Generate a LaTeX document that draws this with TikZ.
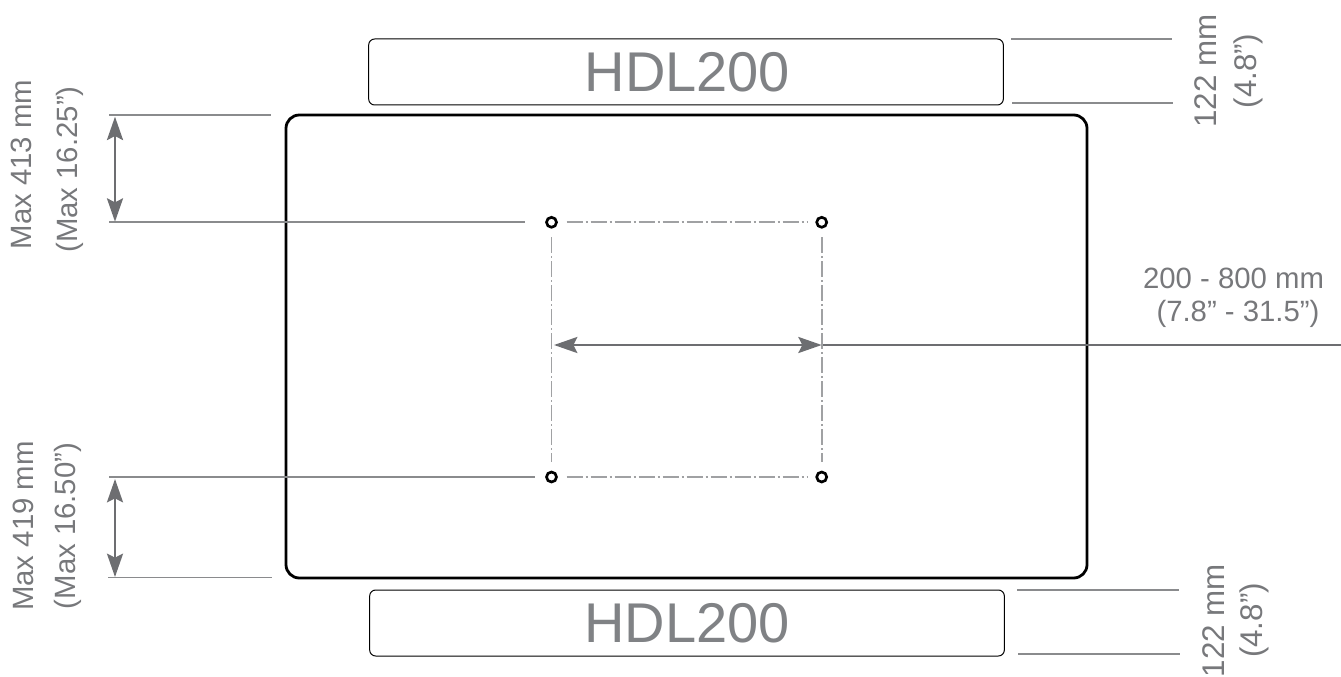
\documentclass[tikz,border=0pt]{standalone}
\usepackage{fontspec}
\setmainfont{Liberation Sans}
\usetikzlibrary{arrows.meta}
\definecolor{dimgray}{HTML}{6D6E71}
\definecolor{labelgray}{HTML}{77787B}
\definecolor{bargray}{HTML}{808285}
\definecolor{linegray}{HTML}{8A8B8D}
\definecolor{dashgray}{HTML}{A0A1A3}
\tikzset{
    px/.style={x=0.75pt,y=-0.75pt},
    outline/.style={draw=black,line width=2.1pt,rounded corners=10pt},
    mountbar/.style={draw=black,line width=0.75pt,rounded corners=4.5pt,text=bargray,font=\fontsize{42}{42}\selectfont,inner sep=0pt,minimum width=476pt,minimum height=49.5pt},
    hole/.style={circle,draw=black,fill=white,line width=2pt,minimum size=7.5pt,inner sep=0pt},
    extline/.style={draw=linegray,line width=0.9pt},
    centerline/.style={draw=dashgray,line width=1.2pt,shorten <=6.5pt,shorten >=6.5pt,dash pattern=on 12pt off 2.25pt on 1.5pt off 2.25pt},
    dimarrow/.style={draw=dimgray,line width=2pt,{Stealth[length=17.5pt,width=12pt,inset=3pt]}-{Stealth[length=17.5pt,width=12pt,inset=3pt]}},
    dimtext/.style={text=labelgray,font=\fontsize{22}{34.5}\selectfont,align=center,inner sep=0pt},
    bartext/.style={dimtext,font=\fontsize{23.5}{30}\selectfont},
}
\begin{document}
\begin{tikzpicture}[px]
    \useasboundingbox (0,0) rectangle (1341,677);

    % --- Monitor and mounting bars ---
    \draw[outline] (286,115) rectangle (1087,578);
    \node[mountbar] (barTop) at (686,72) {\hspace*{2pt}HDL200};
    \node[mountbar] (barBottom) at (687,623) {HDL200};
    % ---

    % --- Holes and center lines ---
    \node[hole] (holeTL) at (551.5,222.3) {};
    \node[hole] (holeTR) at (821.7,222.3) {};
    \node[hole] (holeBL) at (551.5,477) {};
    \node[hole] (holeBR) at (821.7,477) {};
    \draw[centerline] (holeTL) -- (holeTR);
    \draw[centerline] (holeBL) -- (holeBR);
    \draw[centerline] (holeTL) -- (holeBL);
    \draw[centerline] (holeTR) -- (holeBR);
    % ---

    % --- Left dimensions ---
    \coordinate (topA) at (109,115);
    \coordinate (topB) at (271,115);
    \coordinate (midA) at (109,222);
    \coordinate (midB) at (525,222);
    \coordinate (lowA) at (109,477);
    \coordinate (lowB) at (535,477);
    \coordinate (endA) at (108,577.5);
    \coordinate (endB) at (272,577.5);
    \draw[extline] (topA) -- (topB);
    \draw[extline] (midA) -- (midB);
    \draw[extline] (lowA) -- (lowB);
    \draw[extline] (endA) -- (endB);
    \draw[dimarrow] (115,116.7) -- (115,221.7);
    \draw[dimarrow] (115,479) -- (115,577);
    \node[dimtext,rotate=90] (maxTop) at (47,164.5) {Max 413 mm\\(Max 16.25”)\hspace*{7.5pt}};
    \node[dimtext,rotate=90,font=\fontsize{22}{31.5}\selectfont] (maxLow) at (47,526) {Max 419 mm\\(Max 16.50”)};
    % ---

    % --- Right dimensions ---
    \coordinate (rightA) at (1011,39);
    \coordinate (rightB) at (1172,39);
    \coordinate (rightC) at (1012,103);
    \coordinate (rightD) at (1173,103);
    \coordinate (rightE) at (1017,590);
    \coordinate (rightF) at (1179,590);
    \coordinate (rightG) at (1018,654);
    \coordinate (rightH) at (1180,654);
    \draw[extline] (rightA) -- (rightB);
    \draw[extline] (rightC) -- (rightD);
    \draw[extline] (rightE) -- (rightF);
    \draw[extline] (rightG) -- (rightH);
    \node[bartext,rotate=90] (sizeTop) at (1229,71) {122 mm\\(4.8”)};
    \node[bartext,rotate=90,font=\fontsize{23.5}{28.5}\selectfont] (sizeLow) at (1236,620.5) {122 mm\\(4.8”)};
    % ---

    % --- Hole spacing ---
    \coordinate (spanL) at (554,345);
    \coordinate (spanR) at (821.7,345);
    \coordinate (spanEnd) at (1341,345);
    \draw[dimarrow] (spanL) -- (spanR);
    \draw[draw=dimgray,line width=1.8pt] (spanR) ++(1.5,0) -- (spanEnd);
    \node[dimtext,font=\fontsize{22}{24.75}\selectfont] (spanText) at (1233.5,297.5) {200 - 800 mm\\\hspace*{6.75pt}(7.8” - 31.5”)};
    % ---
\end{tikzpicture}
\end{document}
